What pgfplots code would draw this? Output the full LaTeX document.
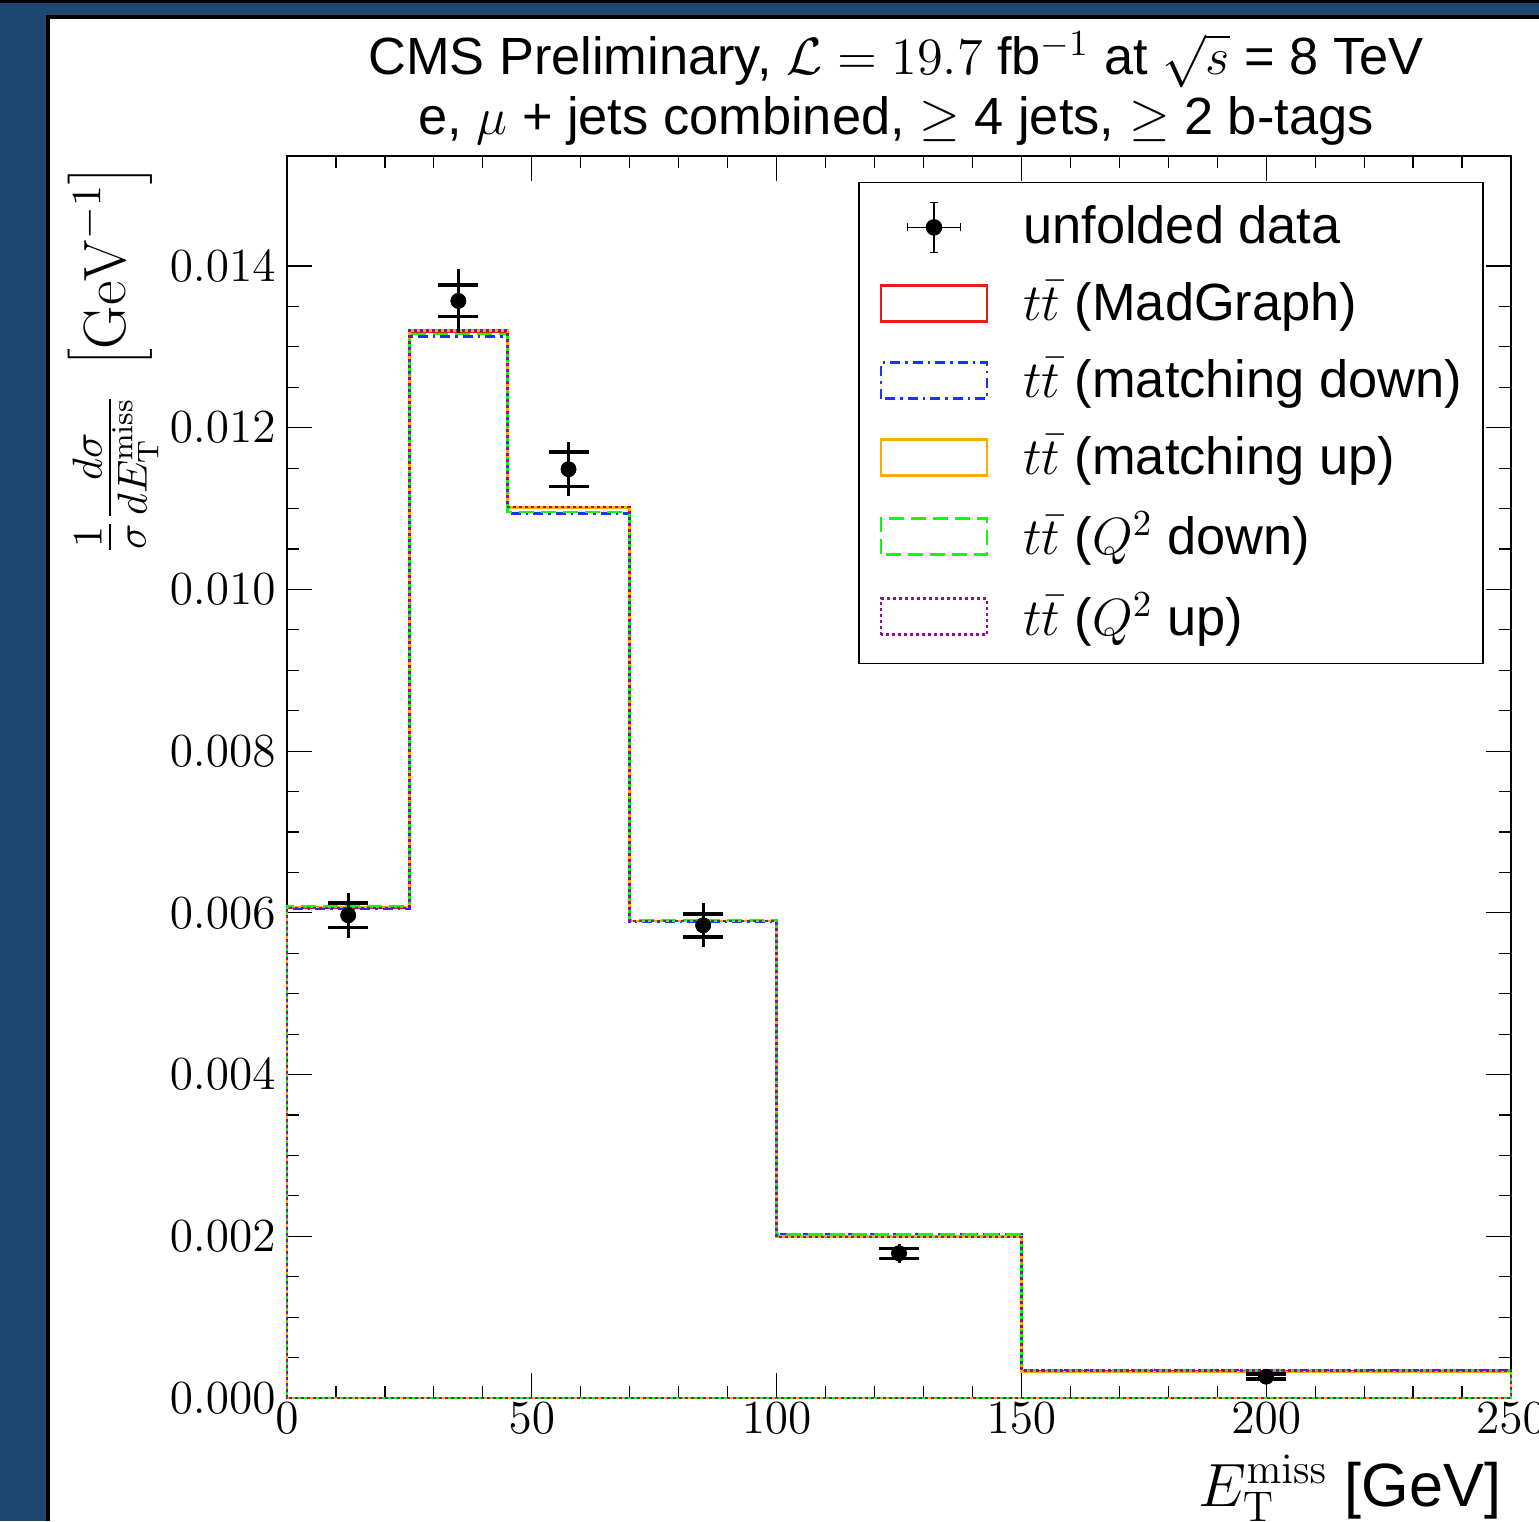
\RequirePackage{fix-cm}
\documentclass[border=0pt]{standalone}
\usepackage[no-math]{fontspec}
\setmainfont{Liberation Sans}
\usepackage{pgfplots}
\pgfplotsset{compat=1.18}
\usepackage{pgfplotstable}

\definecolor{frameblue}{RGB}{30,72,114}
\definecolor{hred}{RGB}{228,32,22}
\definecolor{hblue}{RGB}{25,50,255}
\definecolor{horange}{RGB}{255,170,0}
\definecolor{hgreen}{RGB}{20,245,20}
\definecolor{hpurple}{RGB}{135,20,140}

% unfolded data: bin centre, value, stat. error (caps), total error (bar)
\pgfplotstableread{
x y stat tot
12.5 0.00597 0.000152 0.000275
35 0.013568 0.000194 0.000396
57.5 0.011486 0.000214 0.000334
85 0.005846 0.000142 0.000270
125 0.00179 0.000062 0.000118
200 0.000264 0.000030 0.000050
}\datatable

% histograms (closed step outlines): left edge, bin values
\pgfplotstableread{
x red blue orange green purple
0 0 0 0 0 0
0 0.00606 0.00605 0.00607 0.00608 0.00606
25 0.01319 0.01313 0.01320 0.01316 0.01320
45 0.01101 0.01094 0.01101 0.01096 0.01102
70 0.00590 0.00589 0.00590 0.00591 0.00590
100 0.00200 0.00203 0.00200 0.00202 0.00199
150 0.000330 0.000345 0.000320 0.000340 0.000340
250 0.000330 0.000345 0.000320 0.000340 0.000340
250 0 0 0 0 0
0 0 0 0 0 0
}\histtable

\pgfplotsset{
  boxlegend/.style={legend image code/.code={\draw[##1] (0mm,-1.8mm) rectangle (10.6mm,1.8mm);}},
  datalegend/.style={legend image code/.code={
    \draw[black, line width=0.15mm] (2.65mm,0mm)--(7.95mm,0mm);
    \draw[black, line width=0.15mm] (5.3mm,-2.5mm)--(5.3mm,2.5mm);
    \draw[black, line width=0.15mm] (2.65mm,-0.4mm)--(2.65mm,0.4mm);
    \draw[black, line width=0.15mm] (7.95mm,-0.4mm)--(7.95mm,0.4mm);
    \draw[black, line width=0.15mm] (4.9mm,-2.5mm)--(5.7mm,-2.5mm);
    \draw[black, line width=0.15mm] (4.9mm,2.5mm)--(5.7mm,2.5mm);
    \fill[black] (5.3mm,0mm) circle (0.75mm);}},
  hist/.style={const plot mark left, line width=0.25mm, forget plot},
}

\begin{document}
\begin{tikzpicture}
\path[use as bounding box] (0,0) rectangle (153.9mm,152.1mm);
\fill[frameblue] (0,0) rectangle (153.9mm,152.1mm);
\fill[black] (0,151.8mm) rectangle (153.9mm,152.1mm);
\fill[white] (4.8mm,0) rectangle (153.9mm,150.4mm);
\draw[black, line width=0.35mm] (4.8mm,0) -- (4.8mm,150.4mm) -- (153.9mm,150.4mm);

\node[anchor=base, inner sep=0pt, font=\fontsize{14.9}{17}\selectfont] at (89.6mm,144.6mm)
  {CMS Preliminary, $\mathcal{L} = 19.7$ fb$^{-1}$ at $\sqrt{s}$ = 8 TeV};
\node[anchor=base, inner sep=0pt, font=\fontsize{14.9}{17}\selectfont] at (89.6mm,138.6mm)
  {e, $\mu$ + jets combined, $\geq$ 4 jets, $\geq$ 2 b-tags};

\begin{axis}[
  at={(28.7mm,12.3mm)}, anchor=south west,
  scale only axis, width=122.4mm, height=124.2mm,
  xmin=0, xmax=250, ymin=0, ymax=0.01536,
  clip=false,
  axis line style={line width=0.15mm},
  xtick={0,50,100,150,200,250},
  ytick={0,0.002,0.004,0.006,0.008,0.010,0.012,0.014},
  minor x tick num=4, minor y tick num=3,
  tick align=inside, tick pos=both,
  major tick length=2.5mm, minor tick length=1.2mm,
  tick style={line width=0.12mm, black},
  scaled y ticks=false,
  y tick label style={/pgf/number format/fixed, /pgf/number format/fixed zerofill,
    /pgf/number format/precision=3},
  tick label style={font=\fontsize{13.5}{15}\selectfont},
  xticklabel style={yshift=0.8mm},
  yticklabel style={xshift=0.1mm},
  xlabel={$E_{\mathrm{T}}^{\mathrm{miss}}$ [GeV]},
  xlabel style={at={(axis description cs:0.9926,-0.087)}, anchor=base east, inner sep=0pt,
    font=\fontsize{17.4}{20}\selectfont},
  ylabel={$\frac{1}{\sigma}\frac{d\sigma}{dE_{\mathrm{T}}^{\mathrm{miss}}}\ \left[\mathrm{GeV}^{-1}\right]$},
  ylabel style={at={(axis description cs:-0.1420,0.9928)}, anchor=east, inner sep=0pt,
    font=\fontsize{17}{20}\selectfont},
  legend style={at={(0.4665,0.9791)}, anchor=north west, draw=black, line width=0.15mm,
    fill=white, font=\fontsize{14.9}{17}\selectfont,
    inner xsep=2.1mm, inner ysep=1.6mm, column sep=3.5mm, row sep=1.84mm,
    nodes={inner xsep=0pt}},
  legend cell align=left,
]
\addlegendimage{datalegend}
\addlegendentry{unfolded data}
\addlegendimage{boxlegend, hred, line width=0.25mm}
\addlegendentry{$t\bar{t}$ (MadGraph)}
\addlegendimage{boxlegend, hblue, line width=0.25mm, dash pattern=on 1.0mm off 0.5mm on 0.25mm off 0.5mm}
\addlegendentry{$t\bar{t}$ (matching down)}
\addlegendimage{boxlegend, horange, line width=0.25mm}
\addlegendentry{$t\bar{t}$ (matching up)}
\addlegendimage{boxlegend, hgreen, line width=0.25mm, dash pattern=on 1.5mm off 0.7mm}
\addlegendentry{$t\bar{t}$ ($Q^2$ down)}
\addlegendimage{boxlegend, hpurple, line width=0.25mm, dash pattern=on 0.3mm off 0.3mm}
\addlegendentry{$t\bar{t}$ ($Q^2$ up)}

\addplot[hist, hred] table[x=x, y=red] {\histtable};
\addplot[hist, hblue, dash pattern=on 1.0mm off 0.5mm on 0.25mm off 0.5mm] table[x=x, y=blue] {\histtable};
\addplot[hist, horange] table[x=x, y=orange] {\histtable};
\addplot[hist, hgreen, dash pattern=on 1.5mm off 0.7mm] table[x=x, y=green] {\histtable};
\addplot[hist, hpurple, dash pattern=on 0.3mm off 0.3mm] table[x=x, y=purple] {\histtable};

\addplot[forget plot, black, only marks, mark=none,
  error bars/.cd, y dir=both, y explicit, error mark=none,
  error bar style={line width=0.3mm, black}]
  table[x=x, y=y, y error=tot] {\datatable};
\addplot[forget plot, black, only marks, mark=none,
  error bars/.cd, y dir=both, y explicit, error mark=|,
  error bar style={line width=0.3mm, black},
  error mark options={black, line width=0.35mm, mark size=2mm}]
  table[x=x, y=y, y error=stat] {\datatable};
\addplot[forget plot, black, only marks, mark=*, mark size=0.7mm]
  table[x=x, y=y] {\datatable};
\end{axis}
\end{tikzpicture}
\end{document}
